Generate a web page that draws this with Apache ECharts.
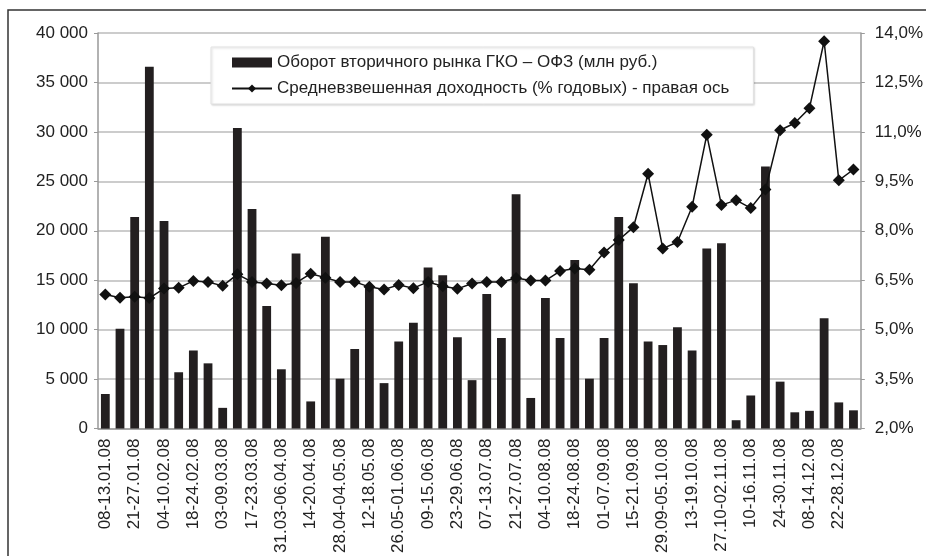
<!DOCTYPE html>
<html>
<head>
<meta charset="utf-8">
<script src="https://cdn.jsdelivr.net/npm/echarts@6/dist/echarts.min.js"></script>
<style>
    html, body { margin: 0; padding: 0; background: #fff; }
    #chart { width: 926px; height: 556px; }
</style>
</head>
<body>
<div id="chart"></div>
<script>
// недели 2008 г.
const weeks = [
    '08-13.01.08', '14-20.01.08', '21-27.01.08', '28.01-03.02.08', '04-10.02.08', '11-17.02.08',
    '18-24.02.08', '25.02-02.03.08', '03-09.03.08', '10-16.03.08', '17-23.03.08', '24-30.03.08',
    '31.03-06.04.08', '07-13.04.08', '14-20.04.08', '21-27.04.08', '28.04-04.05.08', '05-11.05.08',
    '12-18.05.08', '19-25.05.08', '26.05-01.06.08', '02-08.06.08', '09-15.06.08', '16-22.06.08',
    '23-29.06.08', '30.06-06.07.08', '07-13.07.08', '14-20.07.08', '21-27.07.08', '28.07-03.08.08',
    '04-10.08.08', '11-17.08.08', '18-24.08.08', '25-31.08.08', '01-07.09.08', '08-14.09.08',
    '15-21.09.08', '22-28.09.08', '29.09-05.10.08', '06-12.10.08', '13-19.10.08', '20-26.10.08',
    '27.10-02.11.08', '03-09.11.08', '10-16.11.08', '17-23.11.08', '24-30.11.08', '01-07.12.08',
    '08-14.12.08', '15-21.12.08', '22-28.12.08', '29-31.12.08'
];

// оборот, млн руб.
const turnover = [
    3500, 10100, 21400, 36600, 21000, 5700, 7900, 6600, 2100, 30400, 22200, 12400,
    6000, 17700, 2750, 19400, 5050, 8050, 14200, 4600, 8800, 10700, 16300, 15500,
    9250, 4900, 13600, 9150, 23700, 3100, 13200, 9150, 17050, 5050, 9150, 21400,
    14700, 8800, 8450, 10250, 7900, 18200, 18750, 850, 3350, 26500, 4750, 1650,
    1800, 11150, 2650, 1850
];

// доходность, % годовых
const yieldPct = [
    6.07, 5.97, 6.0, 5.96, 6.25, 6.27, 6.48, 6.45, 6.33, 6.68, 6.45, 6.40,
    6.35, 6.42, 6.70, 6.58, 6.45, 6.45, 6.30, 6.22, 6.36, 6.26, 6.45, 6.32,
    6.24, 6.40, 6.45, 6.45, 6.57, 6.49, 6.49, 6.78, 6.86, 6.82, 7.34, 7.72,
    8.11, 9.73, 7.46, 7.66, 8.73, 10.91, 8.78, 8.93, 8.69, 9.25, 11.05, 11.27,
    11.72, 13.75, 9.53, 9.86
];

const font = "'Liberation Sans', Arial, sans-serif";
const chart = echarts.init(document.getElementById('chart'));

chart.setOption({
    animation: false,
    textStyle: { fontFamily: font },
    graphic: [{
        type: 'rect',
        shape: { x: 8, y: 10, width: 1200, height: 1200 },
        style: { fill: 'none', stroke: '#333', lineWidth: 1.5 },
        silent: true
    }],
    grid: { left: 98, right: 63, top: 33, bottom: 126 },
    legend: {
        orient: 'vertical',
        left: 211,
        top: 47,
        padding: [7, 24, 7, 20],
        itemGap: 9,
        itemWidth: 40,
        itemHeight: 10,
        backgroundColor: '#fff',
        borderColor: '#e2e2e2',
        borderWidth: 1,
        shadowColor: 'rgba(0,0,0,0.15)',
        shadowBlur: 2,
        shadowOffsetX: 1,
        shadowOffsetY: 1,
        textStyle: { fontSize: 17, color: '#222', fontFamily: font },
        data: [
            { name: 'Оборот вторичного рынка ГКО – ОФЗ (млн руб.)', icon: 'rect' },
            { name: 'Средневзвешенная доходность (% годовых) - правая ось' }
        ]
    },
    xAxis: {
        type: 'category',
        data: weeks,
        boundaryGap: true,
        axisLine: { lineStyle: { color: '#999', width: 1.5 } },
        axisTick: { interval: 0, length: 4, lineStyle: { color: '#ccc', width: 1.5 } },
        axisLabel: {
            interval: 1,
            rotate: 90,
            margin: 10,
            fontSize: 17,
            color: '#222',
            fontFamily: font
        }
    },
    yAxis: [
        {
            type: 'value',
            min: 0,
            max: 40000,
            interval: 5000,
            axisLine: { show: true, lineStyle: { color: '#999', width: 1.5 } },
            axisTick: { show: true, length: 4, lineStyle: { color: '#999' } },
            splitLine: { lineStyle: { color: '#bbb', width: 1.5 } },
            axisLabel: {
                fontSize: 17,
                color: '#222',
                margin: 10,
                fontFamily: font,
                formatter: v => String(v).replace(/\B(?=(\d{3})+(?!\d))/g, ' ')
            }
        },
        {
            type: 'value',
            min: 2,
            max: 14,
            interval: 1.5,
            position: 'right',
            axisLine: { show: true, lineStyle: { color: '#999', width: 1.5 } },
            axisTick: { show: true, length: 4, lineStyle: { color: '#999' } },
            splitLine: { show: false },
            axisLabel: {
                fontSize: 17,
                color: '#222',
                margin: 14,
                fontFamily: font,
                formatter: v => v.toFixed(1).replace('.', ',') + '%'
            }
        }
    ],
    series: [
        {
            name: 'Оборот вторичного рынка ГКО – ОФЗ (млн руб.)',
            type: 'bar',
            data: turnover,
            barWidth: '60%',
            itemStyle: { color: '#231f20' }
        },
        {
            name: 'Средневзвешенная доходность (% годовых) - правая ось',
            type: 'line',
            yAxisIndex: 1,
            data: yieldPct,
            symbol: 'diamond',
            symbolSize: 12,
            showAllSymbol: true,
            z: 3,
            lineStyle: { color: '#111', width: 1.5 },
            itemStyle: { color: '#111' }
        }
    ]
});
</script>
</body>
</html>
